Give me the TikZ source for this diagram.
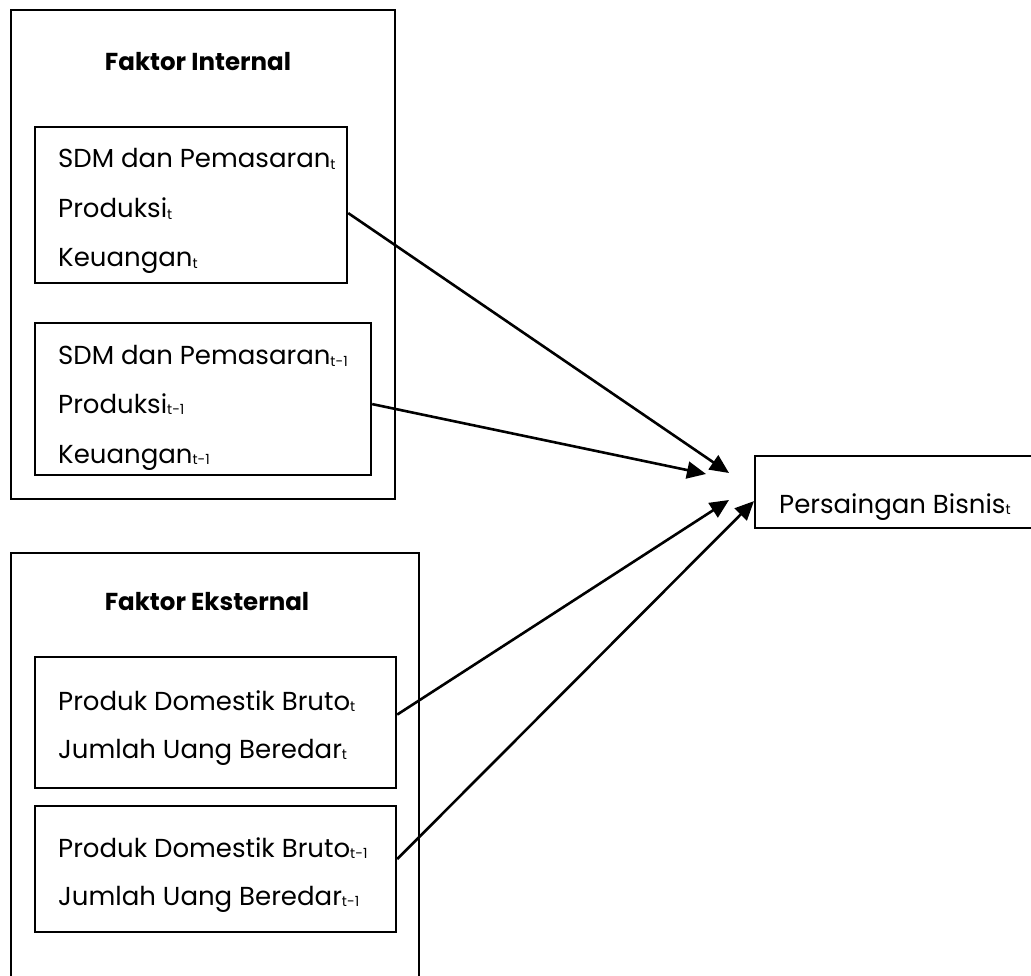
\documentclass[tikz,border=0pt]{standalone}
\usepackage{fontspec}
\setmainfont{Poppins}
\usetikzlibrary{arrows.meta,calc}
\newcommand{\subt}[1]{{\fontsize{14}{14}\selectfont\raisebox{-1.5pt}{#1}}}
\tikzset{
  box/.style={draw,line width=2.2pt,rectangle,inner sep=0pt,anchor=north west},
  txt/.style={anchor=base west,inner sep=0pt,font=\fontsize{26}{26}\selectfont},
  ttl/.style={anchor=base,inner sep=0pt,font=\fontsize{24.5}{24.5}\selectfont\bfseries},
  arr/.style={line width=2.6pt,-{Triangle[length=19pt,width=17pt]}}
}
\begin{document}
\begin{tikzpicture}[x=1pt,y=-1pt]
\useasboundingbox (0,0) rectangle (1031,976);
\clip (0,0) rectangle (1031,976);
% outer boxes
\node[box,minimum width=384pt,minimum height=489pt] (int) at (10,9) {};
\node[box,minimum width=408pt,minimum height=440pt] (ext) at (10,552) {};
% inner boxes
\node[box,minimum width=312pt,minimum height=156pt] (b1) at (34,126) {};
\node[box,minimum width=336pt,minimum height=152pt] (b2) at (34,322) {};
\node[box,minimum width=361pt,minimum height=131pt] (b3) at (34,656) {};
\node[box,minimum width=361pt,minimum height=126pt] (b4) at (34,805) {};
\node[box,minimum width=300pt,minimum height=72pt] (p) at (754,455) {};
% titles
\node[ttl] (tint) at (198,71) {Faktor Internal};
\node[ttl] (text) at (207,610) {Faktor Eksternal};
% texts
\node[txt] (t11) at (58,168) {SDM dan Pemasaran\subt{t}};
\node[txt] (t12) at (58,218) {Produksi\subt{t}};
\node[txt] (t13) at (58,267) {Keuangan\subt{t}};
\node[txt] (t21) at (58,365) {SDM dan Pemasaran\subt{t-1}};
\node[txt] (t22) at (58,413) {Produksi\subt{t-1}};
\node[txt] (t23) at (58,463) {Keuangan\subt{t-1}};
\node[txt] (t31) at (58,710) {Produk Domestik Bruto\subt{t}};
\node[txt] (t32) at (58,758) {Jumlah Uang Beredar\subt{t}};
\node[txt] (t41) at (58,857) {Produk Domestik Bruto\subt{t-1}};
\node[txt] (t42) at (58,905) {Jumlah Uang Beredar\subt{t-1}};
\node[txt] (tp) at (779,513) {Persaingan Bisnis\subt{t}};
% arrow ends
\coordinate (e1) at (729,473);
\coordinate (e2) at (706,474);
\coordinate (e3) at (729,500);
% arrows
\draw[arr] ($(b1.east)+(0,8)$) -- (e1);
\draw[arr] ($(b2.east)+(0,5)$) -- (e2);
\draw[arr] ($(b3.east)+(0,-8)$) -- (e3);
\draw[arr] ($(b4.east)+(0,-10)$) -- ($(p.west)+(0,9)$);
\end{tikzpicture}
\end{document}
